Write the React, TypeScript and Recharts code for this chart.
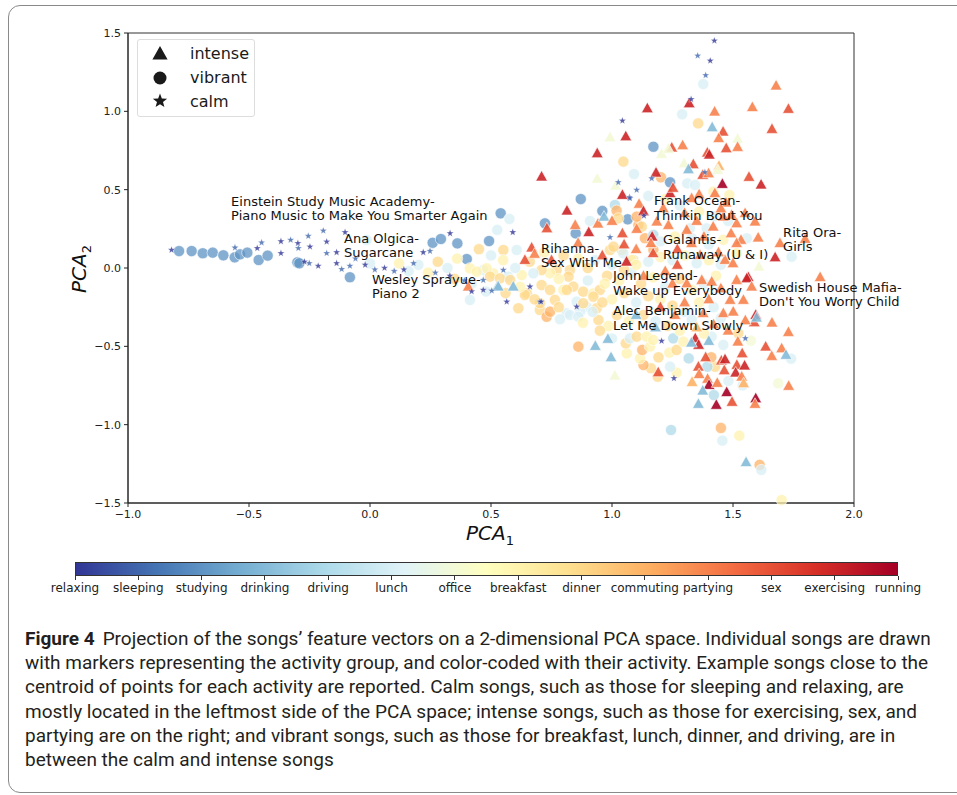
import React from 'react';
import { ScatterChart, Scatter, XAxis, YAxis, ReferenceArea } from 'recharts';

type Pt = [number, number, number];

// activity order of the colour bar (index used in the point lists)
const activities = [
  'relaxing', 'sleeping', 'studying', 'drinking', 'driving', 'lunch', 'office',
  'breakfast', 'dinner', 'commuting', 'partying', 'sex', 'exercising', 'running',
];
const activityColors = [
  '#313695', '#4066ad', '#5e93c4', '#85bbd8', '#afdbea', '#d8eff6', '#f3fad5',
  '#fff1ad', '#fed889', '#fdb265', '#f7814c', '#e75136', '#cc2527', '#a50026',
];
const cmapStops = ['#313695', '#4575b4', '#74add1', '#abd9e9', '#e0f3f8', '#ffffbf', '#fee090', '#fdae61', '#f46d43', '#d73027', '#a50026'];

const xTicks = [-1, -0.5, 0, 0.5, 1, 1.5, 2];
const yTicks = [-1.5, -1, -0.5, 0, 0.5, 1, 1.5];

// [PCA1, PCA2, activity]
const calmSongs: Pt[] = [
  [-0.82, 0.115, 0], [-0.558, 0.13, 1], [-0.466, 0.126, 0], [-0.448, 0.162, 1], [-0.368, 0.17, 0],
  [-0.328, 0.179, 1], [-0.298, 0.158, 0], [-0.255, 0.204, 1], [-0.248, 0.136, 0], [-0.193, 0.238, 1],
  [-0.179, 0.168, 0], [-0.214, 0.013, 0], [-0.251, 0.03, 1], [-0.271, 0.04, 0], [-0.296, 0.126, 1],
  [-0.368, 0.094, 0], [-0.179, 0.094, 1], [-0.138, 0.03, 0], [-0.117, -0.008, 1], [-0.103, 0.228, 0],
  [-0.083, 0.013, 1], [-0.138, 0.1, 0], [-0.06, 0.06, 1], [-0.02, 0.02, 0], [0.02, -0.01, 1],
  [0.06, 0.0, 0], [0.1, -0.02, 1], [0.14, -0.01, 0], [0.18, 0.03, 1], [0.22, 0.1, 0],
  [0.248, 0.108, 1], [0.331, 0.221, 0], [0.27, -0.03, 1], [0.33, -0.05, 0], [0.39, -0.08, 1],
  [0.42, -0.15, 0], [0.468, -0.077, 1], [0.468, -0.14, 0], [0.551, -0.013, 1], [0.59, 0.228, 0],
  [0.661, -0.119, 0], [0.702, -0.215, 1], [0.854, -0.247, 0], [0.992, 0.196, 1], [1.043, 0.94, 0],
  [1.026, 0.547, 1], [1.072, 0.451, 0], [1.102, 0.498, 1], [1.132, 0.334, 0], [1.074, 0.445, 1],
  [1.327, 1.077, 0], [1.387, 1.23, 1], [1.406, 1.323, 0], [1.354, 1.355, 1], [1.423, 1.451, 0],
  [0.503, -0.145, 1], [0.565, -0.215, 0], [0.707, -0.215, 0], [1.256, -0.704, 0], [1.551, -0.449, 1],
  [1.205, -0.466, 0], [1.164, 0.572, 1], [1.384, 0.611, 1],
];

const vibrantSongs: Pt[] = [
  [-0.789, 0.108, 2], [-0.737, 0.108, 2], [-0.691, 0.094, 2], [-0.65, 0.098, 2], [-0.606, 0.081, 2],
  [-0.559, 0.068, 2], [-0.537, 0.087, 2], [-0.507, 0.098, 2], [-0.46, 0.051, 2], [-0.423, 0.079, 2],
  [-0.3, 0.036, 2], [-0.292, 0.03, 2], [-0.083, -0.059, 2], [-0.014, 0.179, 5], [0.0, 0.03, 5],
  [0.259, 0.161, 2], [0.293, 0.185, 2], [0.361, 0.157, 2], [0.4, 0.057, 2], [0.492, 0.172, 2],
  [0.526, 0.243, 5], [0.54, 0.349, 2], [0.576, 0.313, 5], [0.723, 0.285, 2], [0.85, 0.221, 2],
  [0.871, 0.44, 2], [0.96, 0.364, 2], [1.065, 0.311, 2], [1.171, 0.774, 2], [1.012, 0.402, 4],
  [0.909, 0.3, 5], [1.377, 1.174, 5], [1.29, 0.981, 5], [1.356, 0.923, 8], [1.047, 0.679, 8],
  [1.091, 0.6, 5], [1.202, 0.579, 9], [1.24, 0.547, 2], [1.311, 0.54, 5], [1.343, 0.53, 5],
  [1.419, 0.487, 7], [1.485, 0.466, 7], [1.019, 0.366, 9], [1.026, 0.317, 8], [1.109, 0.274, 9],
  [1.136, 0.19, 9], [1.171, 0.211, 4], [1.171, 0.115, 9], [1.557, 0.19, 5], [1.742, 0.072, 5],
  [1.515, 0.094, 7], [1.322, 0.253, 5], [1.391, 0.253, 5], [0.992, 0.115, 8], [1.04, 0.115, 8],
  [1.088, 0.051, 8], [0.826, -0.013, 8], [0.771, -0.013, 8], [0.551, 0.115, 8], [0.606, 0.115, 5],
  [0.468, -0.013, 5], [0.413, -0.002, 7], [0.627, -0.045, 7], [0.648, -0.162, 8], [0.709, -0.109, 8],
  [0.744, -0.14, 8], [0.799, -0.14, 7], [0.84, -0.119, 8], [0.881, -0.151, 8], [0.923, -0.162, 7],
  [0.95, -0.14, 8], [0.854, -0.215, 5], [0.895, -0.247, 5], [0.937, -0.257, 8], [0.764, -0.204, 8],
  [0.702, -0.268, 8], [0.73, -0.311, 9], [0.613, -0.257, 8], [0.861, -0.502, 9], [0.813, -0.289, 5],
  [0.868, -0.279, 5], [0.82, -0.055, 8], [0.744, -0.034, 7], [0.709, -0.013, 8], [0.675, -0.034, 5],
  [0.571, -0.055, 5], [0.509, -0.034, 7], [0.482, -0.002, 7], [0.441, -0.023, 7], [1.081, 0.051, 7],
  [1.047, 0.094, 5], [1.006, 0.136, 8], [1.102, 0.328, 9], [1.123, 0.264, 8], [0.413, -0.204, 5],
  [0.496, -0.055, 8], [0.537, -0.066, 8], [0.579, -0.077, 8], [0.702, -0.225, 8], [0.744, -0.279, 9],
  [0.64, -0.172, 8], [0.785, -0.327, 5], [0.826, -0.3, 5], [0.861, -0.311, 5], [0.813, -0.14, 8],
  [0.881, -0.225, 8], [0.923, -0.183, 8], [0.944, -0.332, 8], [0.985, -0.37, 7],
  [1.244, -1.034, 4], [1.45, -1.021, 9], [1.526, -1.07, 7], [1.456, -1.102, 5], [1.61, -1.257, 9],
  [1.617, -1.289, 5], [1.701, -1.481, 7], [1.74, -0.579, 5], [1.687, -0.736, 6], [1.54, -0.749, 5],
  [1.421, -0.811, 4], [1.481, -0.721, 5], [1.426, -0.63, 8], [1.394, -0.63, 4], [1.46, -0.491, 5],
  [1.574, -0.464, 6], [1.522, -0.417, 8], [1.267, -0.668, 7], [1.189, -0.694, 8], [1.161, -0.64, 8],
  [1.13, -0.619, 9], [1.116, -0.577, 7], [1.125, -0.523, 9], [1.157, -0.502, 7], [1.192, -0.57, 8],
  [1.237, -0.54, 7], [1.267, -0.523, 8], [1.24, -0.63, 5], [1.061, -0.545, 7], [1.057, -0.481, 8],
  [1.074, -0.449, 5], [1.102, -0.438, 8], [1.143, -0.438, 7], [1.17, -0.459, 7], [1.253, -0.449, 4],
  [1.295, -0.47, 7], [1.412, -0.438, 5], [1.317, -0.577, 4], [1.41, -0.57, 9],
  [0.98, -0.05, 8], [1.03, -0.08, 7], [1.08, -0.03, 5], [1.12, -0.1, 8], [1.17, -0.06, 7],
  [1.22, -0.12, 5], [1.28, -0.07, 8], [1.33, -0.14, 7], [1.38, -0.1, 5], [1.43, -0.05, 7],
  [1.0, -0.2, 7], [1.05, -0.16, 8], [1.1, -0.22, 5], [1.15, -0.18, 8], [1.2, -0.2, 7],
  [1.25, -0.24, 8], [1.3, -0.28, 5], [1.36, -0.22, 7], [1.42, -0.25, 5], [1.02, -0.3, 8],
  [1.07, -0.34, 7], [1.13, -0.3, 8], [1.18, -0.34, 5], [1.23, -0.37, 8], [1.28, -0.4, 7],
  [1.33, -0.33, 5], [1.38, -0.42, 7], [1.45, -0.32, 5], [0.95, -0.4, 8], [1.0, -0.45, 5],
  [1.0, 0.02, 5], [1.05, -0.01, 8], [1.1, 0.02, 7], [1.15, 0.04, 5], [1.2, 0.07, 7],
  [1.25, 0.05, 5], [1.3, 0.08, 7], [1.35, 0.03, 5], [1.4, 0.05, 7], [1.45, 0.02, 5],
  [1.2, 0.17, 5], [1.26, 0.2, 7], [1.33, 0.19, 5], [1.4, 0.15, 5], [1.46, 0.18, 7],
  [1.48, 0.3, 5], [1.42, 0.33, 5], [1.36, 0.36, 7], [1.28, 0.4, 5], [1.22, 0.44, 7], [1.15, 0.46, 5],
  [0.9, 0.0, 8], [0.86, 0.06, 7], [0.93, 0.05, 5], [0.8, 0.08, 8], [0.72, 0.1, 7],
  [0.66, 0.04, 8], [0.6, 0.0, 5], [0.55, 0.05, 7], [0.5, 0.08, 5], [0.45, 0.12, 8],
  [0.36, 0.06, 7], [0.32, 0.0, 5], [0.28, 0.04, 8], [0.24, -0.03, 7], [0.2, 0.02, 5],
  [0.16, -0.02, 5], [0.12, 0.03, 7], [0.35, -0.07, 8], [0.42, -0.1, 5], [0.48, -0.15, 5],
  [0.56, -0.16, 8], [0.62, -0.12, 7], [0.68, -0.2, 8], [0.78, -0.25, 8], [0.88, -0.35, 7],
  [0.92, -0.28, 5], [0.96, -0.22, 8], [0.97, -0.1, 7], [0.9, -0.08, 5], [0.78, -0.07, 7],
];

const intenseSongs: Pt[] = [
  [1.678, 1.164, 10], [1.58, 1.026, 10], [1.729, 1.015, 11], [1.146, 1.019, 12], [1.319, 1.051, 12],
  [1.424, 0.998, 10], [1.661, 0.887, 11], [1.057, 0.84, 12], [0.992, 0.834, 6], [1.414, 0.898, 3],
  [1.459, 0.87, 11], [1.441, 0.828, 10], [1.519, 0.825, 6], [1.519, 0.772, 10], [1.472, 0.764, 11],
  [1.292, 0.783, 10], [1.247, 0.768, 11], [1.205, 0.728, 6], [1.233, 0.76, 6], [1.394, 0.736, 11],
  [1.402, 0.723, 12], [0.939, 0.732, 12], [1.298, 0.668, 6], [1.336, 0.662, 11], [1.316, 0.63, 3],
  [1.442, 0.651, 9], [1.437, 0.626, 6], [1.182, 0.608, 12], [1.375, 0.594, 11], [1.566, 0.581, 11],
  [1.616, 0.532, 12], [1.456, 0.536, 13], [0.709, 0.583, 12], [0.939, 0.57, 6], [1.015, 0.525, 6],
  [1.043, 0.466, 12], [1.112, 0.409, 10], [1.13, 0.362, 12], [0.814, 0.366, 12], [0.848, 0.274, 10],
  [0.904, 0.228, 12], [0.942, 0.283, 10], [0.967, 0.327, 3], [0.731, 0.253, 11], [1.043, 0.221, 11],
  [1.102, 0.249, 10], [1.166, 0.2, 12], [1.17, 0.094, 11], [1.161, 0.158, 10], [0.668, 0.13, 11],
  [1.674, 0.068, 12], [1.607, 0.008, 6], [1.563, -0.059, 12], [1.86, -0.059, 10], [1.604, 0.194, 10],
  [1.694, 0.158, 10], [1.798, 0.185, 10], [1.533, 0.179, 10], [1.492, 0.221, 10], [1.591, 0.296, 10],
  [1.399, 0.604, 10], [1.425, 0.477, 10], [1.36, 0.47, 10], [1.329, 0.445, 10], [1.24, 0.477, 12],
  [1.252, 0.511, 11], [1.471, 0.417, 10], [1.494, 0.338, 10], [1.515, 0.285, 10], [1.46, 0.328, 10],
  [1.185, 0.296, 10], [1.212, 0.381, 10],
  [1.309, -0.098, 10], [1.371, -0.077, 10], [1.412, -0.087, 10], [1.515, -0.077, 10], [1.488, -0.204, 10],
  [1.46, -0.289, 10], [1.501, -0.279, 10], [1.543, -0.204, 10], [1.377, -0.289, 10], [1.329, 0.158, 10],
  [1.364, 0.083, 10], [1.467, 0.051, 10], [1.515, 0.158, 10], [1.418, 0.264, 10], [1.309, 0.243, 10],
  [1.233, 0.274, 10], [1.557, -0.066, 12], [1.577, -0.119, 10],
  [0.528, -0.115, 3], [0.983, -0.453, 3], [0.931, -0.498, 3], [0.996, -0.57, 3], [1.012, -0.687, 6],
  [1.331, -0.728, 9], [1.344, -0.449, 12], [1.358, -0.491, 12], [1.387, -0.57, 11], [1.357, -0.63, 11],
  [1.36, -0.678, 10], [1.395, -0.708, 10], [1.401, -0.747, 13], [1.435, -0.734, 10], [1.375, -0.783, 3],
  [1.357, -0.868, 3], [1.431, -0.874, 13], [1.474, -0.793, 13], [1.496, -0.855, 11], [1.452, -0.591, 11],
  [1.467, -0.583, 12], [1.464, -0.653, 11], [1.516, -0.619, 11], [1.548, -0.623, 12], [1.538, -0.545, 11],
  [1.511, -0.668, 12], [1.536, -0.694, 10], [1.544, -0.736, 9], [1.635, -0.502, 11], [1.66, -0.562, 10],
  [1.701, -0.513, 10], [1.719, -0.555, 3], [1.73, -0.753, 10], [1.729, -0.409, 10], [1.661, -0.349, 10],
  [1.594, -0.832, 13], [1.591, -0.868, 10], [1.594, -0.3, 12], [1.588, -0.347, 11], [1.551, -0.334, 10],
  [1.597, -0.317, 3], [1.554, -1.24, 3], [1.191, -0.666, 11], [1.328, -0.477, 3], [1.4, -0.466, 3],
  [0.53, -0.119, 3], [0.592, -0.119, 3], [0.64, 0.051, 11], [0.406, -0.119, 10],
  [0.86, 0.16, 10], [0.96, 0.08, 11], [1.06, 0.04, 12], [1.22, -0.02, 10], [1.27, 0.02, 11],
  [1.13, -0.05, 10], [0.75, 0.05, 11], [0.68, 0.09, 10], [1.2, -0.25, 11], [1.26, -0.3, 10],
  [1.3, -0.22, 10], [1.18, -0.38, 3], [1.1, -0.3, 3], [1.25, -0.1, 10], [1.45, -0.13, 10],
  [1.4, -0.2, 10], [1.48, -0.4, 10], [1.42, -0.36, 10], [1.35, -0.38, 9], [1.52, -0.47, 10],
  [1.44, 0.1, 10], [1.5, 0.03, 10], [1.38, 0.2, 10], [1.3, 0.35, 10], [1.35, 0.3, 10],
  [1.45, 0.38, 10], [1.55, 0.35, 10], [1.27, 0.12, 11], [1.1, 0.12, 10], [1.0, 0.3, 10], [1.05, 0.15, 11],
];

// example songs next to the centroid of each activity (first line at x, y)
const noteX = [-0.574, -0.107, 0.008, 0.707, 1.174, 1.211, 1.004, 1.004, 1.707, 1.607];
const noteY = [0.396, 0.16, -0.102, 0.096, 0.402, 0.153, -0.077, -0.3, 0.198, -0.153];
const noteText = [
  ['Einstein Study Music Academy-', 'Piano Music to Make You Smarter Again'],
  ['Ana Olgica-', 'Sugarcane'],
  ['Wesley Sprayue-', 'Piano 2'],
  ['Rihanna-', 'Sex With Me'],
  ['Frank Ocean-', 'Thinkin Bout You'],
  ['Galantis-', 'Runaway (U & I)'],
  ['John Legend-', 'Wake up Everybody'],
  ['Alec Benjamin-', 'Let Me Down Slowly'],
  ['Rita Ora-', 'Girls'],
  ['Swedish House Mafia-', "Don't You Worry Child"],
];

const captionLines = [
  'Projection of the songs\u2019 feature vectors on a 2-dimensional PCA space. Individual songs are drawn',
  'with markers representing the activity group, and color-coded with their activity. Example songs close to the',
  'centroid of points for each activity are reported. Calm songs, such as those for sleeping and relaxing, are',
  'mostly located in the leftmost side of the PCA space; intense songs, such as those for exercising, sex, and',
  'partying are on the right; and vibrant songs, such as those for breakfast, lunch, dinner, and driving, are in',
  'between the calm and intense songs',
];

const FONT = "'DejaVu Sans', sans-serif";

const toRows = (pts: Pt[]) => pts.map(([x, y, a]) => ({ x, y, a }));

const starPath = (cx: number, cy: number, r: number) => {
  let d = '';
  for (let i = 0; i < 10; i++) {
    const rad = i % 2 === 0 ? r : r * 0.42;
    const ang = -Math.PI / 2 + (i * Math.PI) / 5;
    d += (i === 0 ? 'M' : 'L') + (cx + rad * Math.cos(ang)).toFixed(2) + ',' + (cy + rad * Math.sin(ang)).toFixed(2);
  }
  return d + 'Z';
};

const triPath = (cx: number, cy: number, s: number) =>
  `M${cx},${cy - s}L${cx - s * 0.95},${cy + s * 0.7}L${cx + s * 0.95},${cy + s * 0.7}Z`;

const CircleMark = (p: any) => (
  <circle cx={p.cx} cy={p.cy} r={5.6} fill={activityColors[p.payload.a]} fillOpacity={0.75} stroke="#fff" strokeWidth={0.6} />
);
const TriMark = (p: any) => (
  <path d={triPath(p.cx, p.cy, 6.2)} fill={activityColors[p.payload.a]} fillOpacity={0.9} stroke="#fff" strokeWidth={0.6} />
);
const StarMark = (p: any) => (
  <path d={starPath(p.cx, p.cy, 3.8)} fill={activityColors[p.payload.a]} fillOpacity={0.8} stroke="#fff" strokeWidth={0.3} />
);
const NoteMark = (p: any) => (
  <text x={p.cx} y={p.cy} fontSize={13} fontFamily={FONT} fill="#111">
    <tspan x={p.cx}>{p.payload.lines[0]}</tspan>
    <tspan x={p.cx} dy={14.5}>{p.payload.lines[1]}</tspan>
  </text>
);

const fmt = (v: number) => (v < 0 ? '\u2212' : '') + Math.abs(v).toFixed(1);

export default function App() {
  const notes = noteX.map((x, i) => ({ x, y: noteY[i], lines: noteText[i] }));
  const barLeft = 75;
  const barWidth = 823;
  const step = barWidth / (activities.length - 1);

  return (
    <div style={{ position: 'absolute', left: 0, top: 0, width: 957, height: 795, background: '#fff', fontFamily: FONT, overflow: 'hidden' }}>
      {/* figure frame */}
      <div style={{ position: 'absolute', left: 8, top: 5, width: 980, height: 786, border: '1.5px solid #8a8a8a', borderRadius: 12 }} />

      <div style={{ position: 'absolute', left: 0, top: 0 }}>
        <ScatterChart width={957} height={540} margin={{ top: 33, right: 103, bottom: 7, left: 78 }}>
          <XAxis
            type="number"
            dataKey="x"
            domain={[-1, 2]}
            ticks={xTicks}
            interval={0}
            tickFormatter={fmt}
            height={30}
            tickSize={4}
            tickMargin={3}
            stroke="#222"
            tick={{ fill: '#222', fontSize: 11, fontFamily: FONT }}
          />
          <YAxis
            type="number"
            dataKey="y"
            domain={[-1.5, 1.5]}
            ticks={yTicks}
            interval={0}
            tickFormatter={fmt}
            width={50}
            tickSize={4}
            tickMargin={3}
            stroke="#222"
            tick={{ fill: '#222', fontSize: 11, fontFamily: FONT }}
          />
          <ReferenceArea x1={-1} x2={2} y1={-1.5} y2={1.5} fill="none" stroke="#333" strokeWidth={1} ifOverflow="visible" />
          <Scatter data={toRows(vibrantSongs)} shape={CircleMark} isAnimationActive={false} />
          <Scatter data={toRows(intenseSongs)} shape={TriMark} isAnimationActive={false} />
          <Scatter data={toRows(calmSongs)} shape={StarMark} isAnimationActive={false} />
          <Scatter data={notes} shape={NoteMark} isAnimationActive={false} />
        </ScatterChart>
      </div>

      {/* legend */}
      <div style={{ position: 'absolute', left: 137, top: 39, width: 116, height: 76, border: '1px solid #ddd', borderRadius: 3, background: 'rgba(255,255,255,0.8)' }}>
        <svg width={116} height={76} style={{ position: 'absolute', left: 0, top: 0 }}>
          <path d={triPath(22, 14, 8)} fill="#1a1a1a" />
          <circle cx={22} cy={38} r={6.5} fill="#1a1a1a" />
          <path d={starPath(22, 61, 7.5)} fill="#1a1a1a" />
          {['intense', 'vibrant', 'calm'].map((t, i) => (
            <text key={t} x={52} y={19 + i * 24} fontSize={16} fontFamily={FONT} fill="#1a1a1a">{t}</text>
          ))}
        </svg>
      </div>

      {/* axis titles */}
      <div style={{ position: 'absolute', left: 466, top: 521, fontSize: 20, fontStyle: 'italic', color: '#111', whiteSpace: 'nowrap' }}>
        PCA<span style={{ fontSize: 13, position: 'relative', top: 5, fontStyle: 'normal' }}>1</span>
      </div>
      <div style={{ position: 'absolute', left: 55, top: 255, width: 50, fontSize: 20, fontStyle: 'italic', color: '#111', whiteSpace: 'nowrap', transform: 'rotate(-90deg)', transformOrigin: '25px 13px' }}>
        PCA<span style={{ fontSize: 13, position: 'relative', top: 5, fontStyle: 'normal' }}>2</span>
      </div>

      {/* colour bar */}
      <div style={{ position: 'absolute', left: barLeft, top: 562, width: barWidth, height: 14, boxSizing: 'border-box', border: '0.8px solid #333', background: `linear-gradient(to right, ${cmapStops.join(', ')})` }} />
      {activities.map((a, i) => (
        <React.Fragment key={a}>
          <div style={{ position: 'absolute', left: barLeft + i * step - 0.5, top: 576, width: 1, height: 4, background: '#333' }} />
          <div style={{ position: 'absolute', left: barLeft + i * step - 50, top: 581, width: 100, textAlign: 'center', fontSize: 12, lineHeight: '14px', color: '#222' }}>{a}</div>
        </React.Fragment>
      ))}

      {/* caption */}
      <div style={{ position: 'absolute', left: 25, top: 627, fontFamily: "'Roboto', sans-serif", fontSize: 19, lineHeight: '24.2px', color: '#231f20', whiteSpace: 'nowrap' }}>
        {captionLines.map((l, i) => (
          <div key={i}>
            {i === 0 && <b style={{ marginRight: 8 }}>Figure 4</b>}
            {l}
          </div>
        ))}
      </div>
    </div>
  );
}
